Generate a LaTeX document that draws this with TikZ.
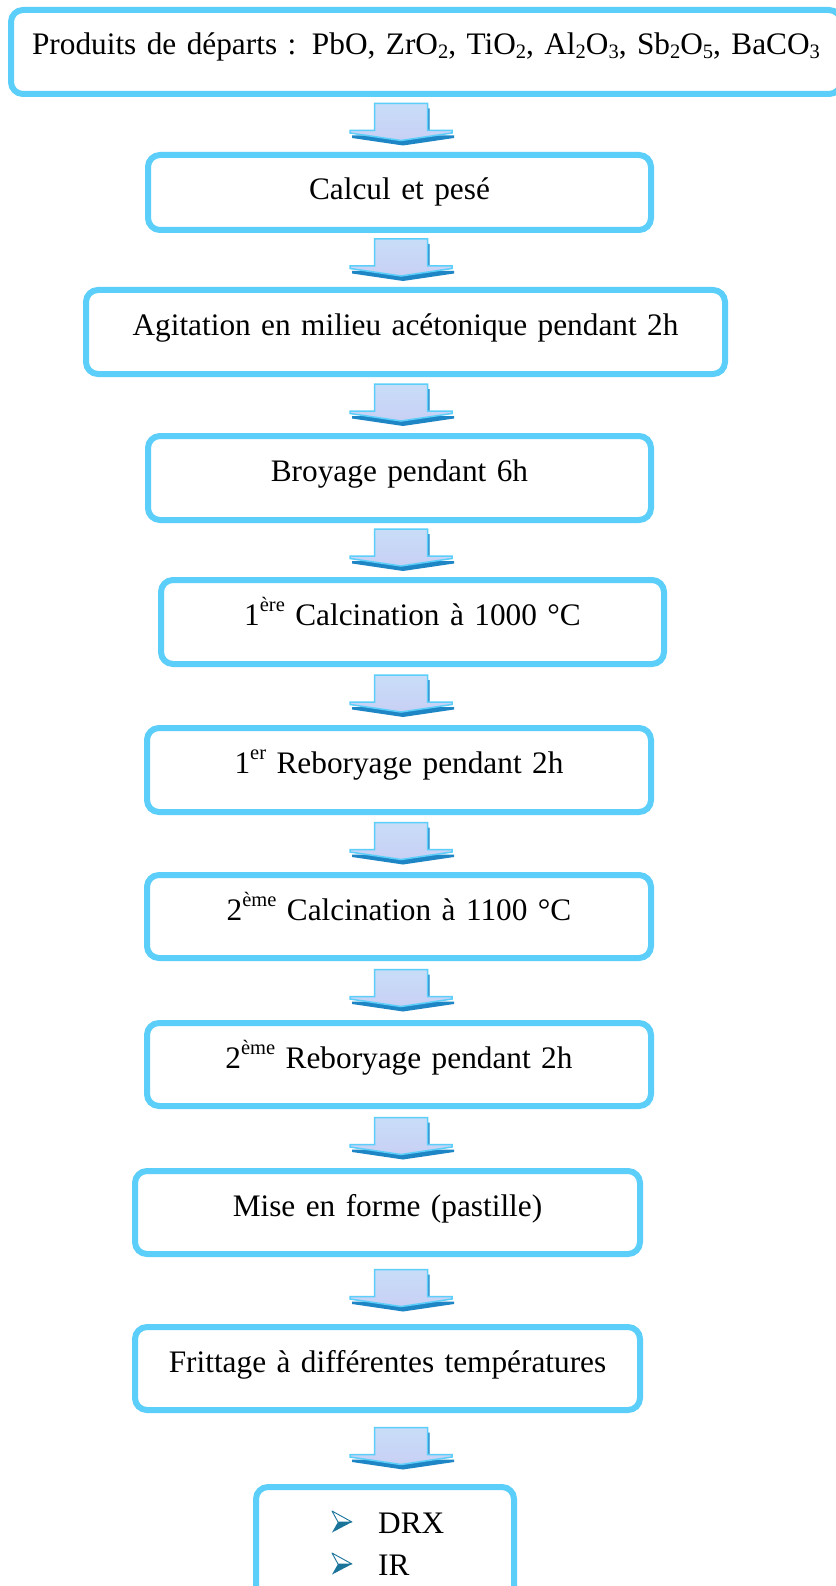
\documentclass[tikz,border=0pt]{standalone}
\usepackage{fontspec}
\setmainfont{Liberation Serif}
\usetikzlibrary{calc}
\definecolor{boxcyan}{HTML}{5BCEFA}
\definecolor{arrowdark}{HTML}{1F86C6}
\definecolor{arrowtop}{HTML}{C8DDF8}
\definecolor{arrowbot}{HTML}{C8D0F4}
\definecolor{bulletteal}{HTML}{1A7399}
\newcommand{\chemsub}[1]{\raisebox{-0.12em}{\fontsize{20.5}{20.5}\selectfont #1}}
\newcommand{\ordsup}[1]{\raisebox{0.42em}{\fontsize{20.5}{20.5}\selectfont #1}}
\begin{document}
\begin{tikzpicture}[x=1pt,y=-1pt,
  stepbox/.style={draw=boxcyan, line width=6pt, rounded corners=12pt, inner sep=0pt, outer sep=0pt,
    align=center, anchor=north west, text height=45pt, font=\fontsize{31.3}{38}\selectfont},
  listtext/.style={anchor=base west, inner sep=0pt, font=\fontsize{31.3}{38}\selectfont},
  arrowshadow/.style={fill=arrowdark},
  arrowbody/.style={draw=boxcyan, line width=1.5pt, top color=arrowtop, bottom color=arrowbot},
  blockarrow/.pic={
    \fill[arrowshadow] (-24.5,-16) -- (28.5,-16) -- (28.5,11) -- (53,11) -- (53,13.5) -- (2,21)
       -- (-49,13.5) -- (-49,11) -- (-24.5,11) -- cycle;
    \path[arrowbody] (-26.5,-21) -- (26.5,-21) -- (26.5,6) -- (51,6) -- (51,8.5) -- (0,16)
       -- (-51,8.5) -- (-51,6) -- (-26.5,6) -- cycle;
  },
  bulletarrow/.pic={
    \draw[bulletteal, line width=0.9pt, line join=round] (-20,-11) -- (0,0) -- (-14,0) -- cycle;
    \fill[bulletteal] (-14,0) -- (0,0) -- (-20,10.5) -- cycle;
  }
]
\useasboundingbox (0,0) rectangle (835,1586);
\fill[white] (0,0) rectangle (835,1586);

\node[stepbox, text width=830pt, text depth=39pt] (b1) at (11,10)
  {Produits de départs : PbO, ZrO\chemsub{2}, TiO\chemsub{2}, Al\chemsub{2}O\chemsub{3}, Sb\chemsub{2}O\chemsub{5}, BaCO\chemsub{3}};
\node[stepbox, text width=503pt, text depth=30pt] (b2) at (148,155) {Calcul et pesé};
\node[stepbox, text width=639pt, text depth=39pt] (b3) at (86,290) {Agitation en milieu acétonique pendant 2h};
\node[stepbox, text width=503pt, text depth=39pt] (b4) at (148,436) {Broyage pendant 6h};
\node[stepbox, text width=503pt, text depth=39pt] (b5) at (161,580) {1\ordsup{ère} Calcination à 1000 °C};
\node[stepbox, text width=504pt, text depth=39pt] (b6) at (147,728) {1\ordsup{er} Reboryage pendant 2h};
\node[stepbox, text width=504pt, text depth=38pt] (b7) at (147,875) {2\ordsup{ème} Calcination à 1100 °C};
\node[stepbox, text width=504pt, text depth=38pt] (b8) at (147,1023) {2\ordsup{ème} Reboryage pendant 2h};
\node[stepbox, text width=505pt, text depth=38pt] (b9) at (135,1171) {Mise en forme (pastille)};
\node[stepbox, text width=505pt, text depth=38pt] (b10) at (135,1327) {Frittage à différentes températures};
\node[stepbox, text width=258pt, text depth=75pt] (b11) at (256,1487) {};

\node[listtext] (drx) at (378,1533) {DRX};
\node[listtext] (ir) at (378,1575) {IR};
\pic at ($(drx.base west)+(-26,-11)$) {bulletarrow};
\pic at ($(ir.base west)+(-26,-11)$) {bulletarrow};

\foreach \a/\b in {b1/b2,b2/b3,b3/b4,b4/b5,b5/b6,b6/b7,b7/b8,b8/b9,b9/b10,b10/b11}{
  \coordinate (m-\a) at ($(\a.south)!0.5!(\b.north)$);
  \pic at (401,0 |- m-\a) {blockarrow};
}
\end{tikzpicture}
\end{document}
